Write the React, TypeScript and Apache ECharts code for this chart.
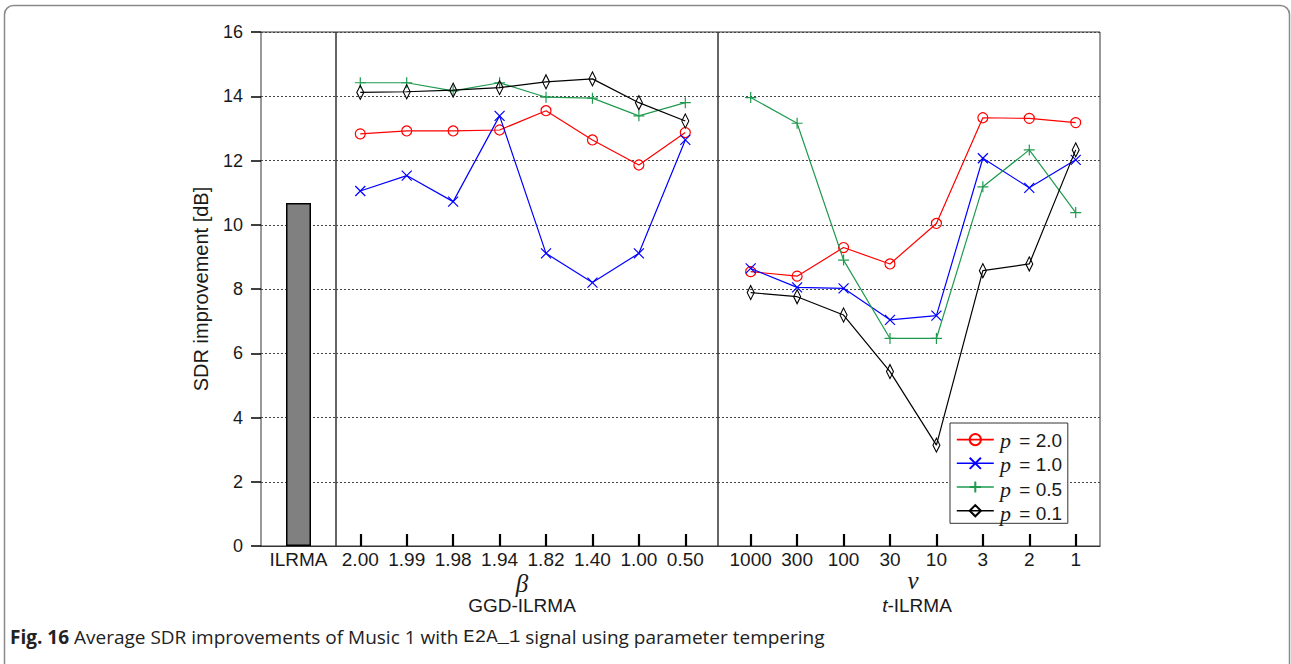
import React, { useEffect, useRef } from 'react';
import * as echarts from 'echarts';

// Tick labels of the two parameter sweeps
const betaLabels = ['2.00', '1.99', '1.98', '1.94', '1.82', '1.40', '1.00', '0.50'];
const nuLabels = ['1000', '300', '100', '30', '10', '3', '2', '1'];

// Baseline ILRMA result [dB]
const ilrmaCategory = ['ILRMA'];
const ilrmaValue = [10.68];

// Legend entries (domain parameter p)
const pNames = ['p = 2.0', 'p = 1.0', 'p = 0.5', 'p = 0.1'];

// GGD-ILRMA, SDR improvement [dB] per beta
const ggdP20 = [12.83, 12.92, 12.92, 12.95, 13.55, 12.64, 11.86, 12.87];
const ggdP10 = [11.05, 11.53, 10.72, 13.39, 9.11, 8.2, 9.11, 12.64];
const ggdP05 = [14.42, 14.42, 14.17, 14.42, 13.97, 13.94, 13.39, 13.8];
const ggdP01 = [14.12, 14.14, 14.19, 14.27, 14.45, 14.54, 13.8, 13.23];

// t-ILRMA, SDR improvement [dB] per nu
const tP20 = [8.54, 8.4, 9.29, 8.78, 10.04, 13.33, 13.31, 13.18];
const tP10 = [8.64, 8.05, 8.02, 7.04, 7.17, 12.07, 11.15, 12.02];
const tP05 = [13.96, 13.16, 8.9, 6.46, 6.46, 11.18, 12.33, 10.38];
const tP01 = [7.89, 7.76, 7.19, 5.43, 3.14, 8.57, 8.78, 12.33];

const COLORS = ['#ff0000', '#0000ff', '#1f9a4f', '#000000'];
const SYMBOLS: any[] = [
  'circle',
  'path://M0,0L10,10M10,0L0,10',
  'path://M5,0L5,10M0,5L10,5',
  'diamond',
];
const SYMBOL_SIZES: any[] = [10, 10, 11, [7, 14]];

const SANS = "'Liberation Sans', Arial, sans-serif";
const SERIF = "'Liberation Serif', 'DejaVu Serif', serif";
const CAPTION = "'Open Sans', 'Noto Sans', sans-serif";
const MONO = "'Liberation Mono', 'DejaVu Sans Mono', monospace";
const TEXT = '#1a1a1a';

// Legend box geometry: the box holds the line/marker samples, the labels sit beside them
const LEGEND_LEFT = 950;
const LEGEND_TOP = 423;
const LEGEND_PAD_TOP = 10;
const LEGEND_ITEM_H = 14;
const LEGEND_GAP = 10.5;

const idx = betaLabels.map((_, i) => i);

function lineSeries(values: number[], k: number, axis: number) {
  return {
    type: 'line',
    name: pNames[k],
    xAxisIndex: axis,
    yAxisIndex: axis,
    data: values.map((v, i) => [i, v]),
    symbol: SYMBOLS[k],
    symbolSize: SYMBOL_SIZES[k],
    showAllSymbol: true,
    lineStyle: { color: COLORS[k], width: 1.2 },
    itemStyle: { color: 'rgba(255,255,255,0)', borderColor: COLORS[k], borderWidth: 1.2 },
    emphasis: { disabled: true },
    z: 3 + k,
  };
}

function yAxisFor(grid: number, visible: boolean) {
  return {
    type: 'value',
    gridIndex: grid,
    min: 0,
    max: 16,
    interval: 2,
    axisLine: { show: false },
    axisTick: visible
      ? { show: true, inside: false, length: 10, lineStyle: { color: '#000', width: 1.5 } }
      : { show: false },
    axisLabel: visible
      ? { show: true, fontSize: 18, fontFamily: SANS, color: TEXT, margin: 18 }
      : { show: false },
    splitLine: { show: true, lineStyle: { color: '#444', width: 1, type: [2, 2] } },
    name: visible ? 'SDR improvement [dB]' : '',
    nameLocation: 'middle',
    nameGap: 50,
    nameTextStyle: { fontSize: 20, fontFamily: SANS, color: TEXT },
  };
}

function paramXAxis(grid: number, labels: string[], min: number, max: number) {
  return {
    type: 'value',
    gridIndex: grid,
    min,
    max,
    axisLine: { show: true, lineStyle: { color: '#333', width: 1.2 } },
    axisTick: {
      show: true,
      inside: true,
      length: 12,
      customValues: idx,
      lineStyle: { color: '#000', width: 2.2 },
    },
    axisLabel: {
      show: true,
      customValues: idx,
      formatter: (v: number) => labels[Math.round(v)] ?? '',
      fontSize: 19,
      fontFamily: SANS,
      color: TEXT,
      margin: 4,
    },
    splitLine: { show: false },
  };
}

function legendLabels() {
  return pNames.map((n, k) => ({
    type: 'text',
    z: 100,
    x: LEGEND_LEFT + 50,
    y: LEGEND_TOP + LEGEND_PAD_TOP + LEGEND_ITEM_H / 2 + k * (LEGEND_ITEM_H + LEGEND_GAP),
    style: {
      text: '{i|p}{r|\u00a0' + n.slice(2) + '}',
      fill: TEXT,
      align: 'left',
      verticalAlign: 'middle',
      rich: {
        i: { fontSize: 22, fontFamily: SERIF, fontStyle: 'italic', fill: TEXT, padding: [0, 3, 0, 0] },
        r: { fontSize: 19, fontFamily: SANS, fill: TEXT },
      },
    },
  }));
}

export default function App() {
  const ref = useRef<HTMLDivElement>(null);

  useEffect(() => {
    if (!ref.current) return;
    const chart = echarts.init(ref.current, null, { renderer: 'svg' });

    const gridStyle = { show: true, borderColor: '#333', borderWidth: 1, backgroundColor: 'transparent' };

    chart.setOption({
      animation: false,
      backgroundColor: '#fff',
      grid: [
        { left: 261, width: 75, top: 32, height: 514, ...gridStyle },
        { left: 336, width: 382, top: 32, height: 514, ...gridStyle },
        { left: 718, width: 382, top: 32, height: 514, ...gridStyle },
      ],
      xAxis: [
        {
          type: 'category',
          gridIndex: 0,
          data: ilrmaCategory,
          boundaryGap: true,
          axisLine: { show: true, lineStyle: { color: '#333', width: 1.2 } },
          axisTick: { show: false },
          axisLabel: { fontSize: 19, fontFamily: SANS, color: TEXT, margin: 4 },
        },
        paramXAxis(1, betaLabels, -0.523, 7.704),
        paramXAxis(2, nuLabels, -0.704, 7.523),
      ],
      yAxis: [yAxisFor(0, true), yAxisFor(1, false), yAxisFor(2, false)],
      legend: {
        data: pNames,
        orient: 'vertical',
        left: LEGEND_LEFT,
        top: LEGEND_TOP,
        padding: [LEGEND_PAD_TOP, 69, 6, 6],
        itemWidth: 37,
        itemHeight: LEGEND_ITEM_H,
        itemGap: LEGEND_GAP,
        borderColor: '#333',
        borderWidth: 1,
        backgroundColor: '#fff',
        selectedMode: false,
        lineStyle: { width: 1.6 },
        formatter: () => '',
        textStyle: { fontSize: 10, lineHeight: 10 },
      },
      series: [
        {
          type: 'bar',
          name: 'ILRMA',
          xAxisIndex: 0,
          yAxisIndex: 0,
          data: ilrmaValue,
          barWidth: 25,
          itemStyle: { color: '#808080', borderColor: '#000', borderWidth: 1.5 },
          emphasis: { disabled: true },
        },
        lineSeries(ggdP20, 0, 1),
        lineSeries(ggdP10, 1, 1),
        lineSeries(ggdP05, 2, 1),
        lineSeries(ggdP01, 3, 1),
        lineSeries(tP20, 0, 2),
        lineSeries(tP10, 1, 2),
        lineSeries(tP05, 2, 2),
        lineSeries(tP01, 3, 2),
      ],
      graphic: [
        {
          type: 'rect',
          shape: { x: 4.5, y: 5.5, width: 1285, height: 668, r: 9 },
          style: { fill: 'none', stroke: '#8a8a8a', lineWidth: 1.5 },
          silent: true,
        },
        ...legendLabels(),
        {
          type: 'text',
          x: 522,
          y: 583,
          style: { text: 'β', font: `italic 25px ${SERIF}`, fill: TEXT, align: 'center', verticalAlign: 'middle' },
        },
        {
          type: 'text',
          x: 522,
          y: 605,
          style: { text: 'GGD-ILRMA', font: `19px ${SANS}`, fill: TEXT, align: 'center', verticalAlign: 'middle' },
        },
        {
          type: 'text',
          x: 913,
          y: 580,
          style: { text: 'ν', font: `italic 25px ${SERIF}`, fill: TEXT, align: 'center', verticalAlign: 'middle' },
        },
        {
          type: 'text',
          x: 917,
          y: 605,
          style: {
            text: '{i|t}{r|-ILRMA}',
            fill: TEXT,
            align: 'center',
            verticalAlign: 'middle',
            rich: {
              i: { fontSize: 19, fontFamily: SANS, fontStyle: 'italic', fill: TEXT },
              r: { fontSize: 19, fontFamily: SANS, fill: TEXT },
            },
          },
        },
        {
          type: 'text',
          x: 10,
          y: 637,
          style: {
            text: '{b|Fig. 16}{r|\u00a0Average SDR improvements of Music 1 with\u00a0}{m|E2A_1}{r|\u00a0signal using parameter tempering}',
            fill: '#222',
            align: 'left',
            verticalAlign: 'middle',
            rich: {
              b: { fontWeight: 'bold', fontSize: 19, fontFamily: CAPTION, fill: '#222', lineHeight: 22 },
              r: { fontSize: 19, fontFamily: CAPTION, fill: '#222', lineHeight: 22 },
              m: { fontSize: 19, fontFamily: MONO, fill: '#222', lineHeight: 22 },
            },
          },
        },
      ],
    });

    return () => chart.dispose();
  }, []);

  return (
    <div
      ref={ref}
      style={{ position: 'absolute', left: 0, top: 0, width: 1291, height: 664 }}
    />
  );
}
